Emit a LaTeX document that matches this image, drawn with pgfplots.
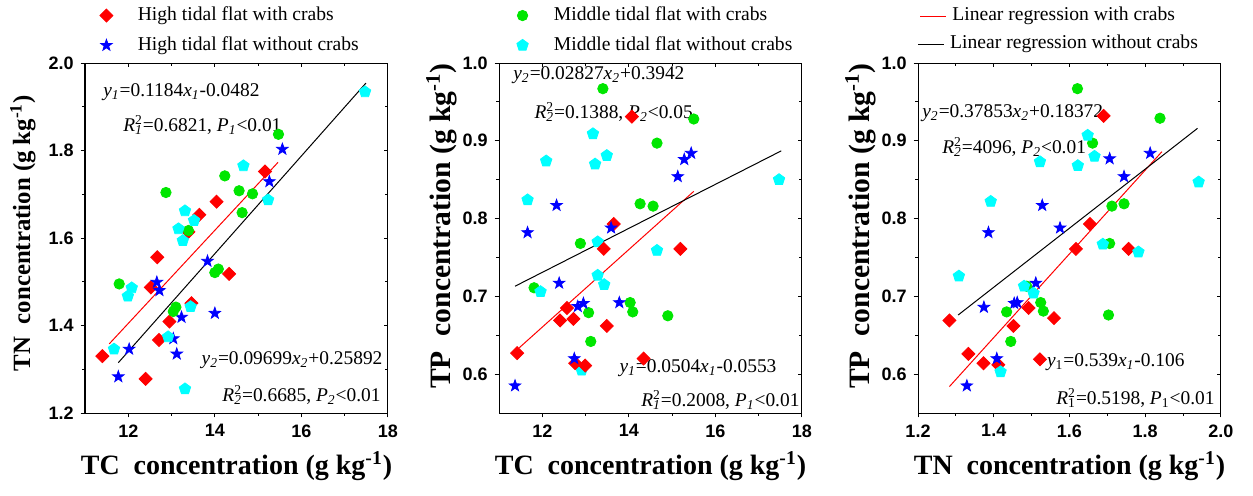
\documentclass[border=0pt]{standalone}
\usepackage{fontspec}
\setmainfont{Liberation Serif}
\newfontfamily\arialfont{Liberation Sans}
\usepackage{pgfplots}
\pgfplotsset{compat=1.18}
\usetikzlibrary{plotmarks}

\definecolor{cgreen}{RGB}{0,230,0}
\definecolor{ccyan}{RGB}{0,255,255}

% filled five-pointed star
\pgfdeclareplotmark{fstar}{%
  \pgfpathmoveto{\pgfpointpolar{90}{\pgfplotmarksize}}%
  \pgfpathlineto{\pgfpointpolar{126}{0.4\pgfplotmarksize}}%
  \pgfpathlineto{\pgfpointpolar{162}{\pgfplotmarksize}}%
  \pgfpathlineto{\pgfpointpolar{198}{0.4\pgfplotmarksize}}%
  \pgfpathlineto{\pgfpointpolar{234}{\pgfplotmarksize}}%
  \pgfpathlineto{\pgfpointpolar{270}{0.4\pgfplotmarksize}}%
  \pgfpathlineto{\pgfpointpolar{306}{\pgfplotmarksize}}%
  \pgfpathlineto{\pgfpointpolar{342}{0.4\pgfplotmarksize}}%
  \pgfpathlineto{\pgfpointpolar{18}{\pgfplotmarksize}}%
  \pgfpathlineto{\pgfpointpolar{54}{0.4\pgfplotmarksize}}%
  \pgfpathclose
  \pgfusepathqfillstroke}

\newcommand{\vs}[2]{\textit{#1}\textsubscript{\textit{#2}}}
\newcommand{\Rsq}[1]{\textit{R}\rlap{\textsuperscript{2}}\textsubscript{\textit{#1}}}

\tikzset{ann/.style={font=\fontsize{9.7}{11}\selectfont, inner sep=0pt},
  leg/.style={font=\fontsize{9.8}{11}\selectfont, inner sep=0pt, anchor=west}}

\pgfplotsset{
  panel/.style={scale only axis, width=151.5pt, height=175pt, anchor=south west,
    axis line style={line width=0.5pt}, tick style={black, line width=0.5pt},
    tick align=outside, xtick pos=left, ytick pos=left,
    major tick length=2.2pt, minor tick length=1.4pt,
    ticklabel style={font=\arialfont\bfseries\fontsize{9}{10}\selectfont},
    /pgf/number format/assume math mode=true,
    every axis x label/.style={at={(axis description cs:0.5,0)}, anchor=center, yshift=-26.5pt,
      font=\bfseries\fontsize{14}{16}\selectfont},
    legend style={draw=none, fill=none, inner sep=0pt, outer sep=0pt, row sep=2.5pt,
      font=\fontsize{9.8}{11}\selectfont, legend cell align=left},
    legend image code/.code={\path (-4pt,0pt) (13.5pt,0pt); \draw[#1] plot coordinates {(0pt,0pt)};},
    clip=false},
  ylab/.style n args={3}{every axis y label/.style={at={(axis description cs:#1,#2)}, rotate=90, anchor=center,
      font=\bfseries\fontsize{#3}{16}\selectfont}},
  mirror/.style={scale only axis, width=151.5pt, height=175pt, anchor=south west,
    axis line style={line width=0.5pt}, tick style={black, line width=0.5pt},
    tick align=inside, xtick pos=right, ytick pos=right,
    major tick length=2.2pt, minor tick length=1.4pt,
    xticklabels={}, yticklabels={}},
  redd/.style={only marks, mark=square*, mark size=2.3pt, mark options={rotate=45, fill=red, draw=red}},
  blus/.style={only marks, mark=fstar, mark size=3pt, mark options={fill=blue, draw=blue}},
  grnc/.style={only marks, mark=*, mark size=2.6pt, mark options={fill=cgreen, draw=cgreen}},
  cyap/.style={only marks, mark=pentagon*, mark size=3pt, mark options={fill=ccyan, draw=ccyan}}
}

\begin{document}
\begin{tikzpicture}
\useasboundingbox (0,0) rectangle (626.5pt,247.5pt);

% ---- panel 1: TN vs TC
\begin{axis}[mirror, at={(42.5pt,41pt)}, xmin=11, xmax=18, ymin=1.2, ymax=2.0,
  xtick={12,14,16,18}, minor xtick={13,15,17}, ytick={1.2,1.4,1.6,1.8,2.0}, minor ytick={1.3,1.5,1.7,1.9}]
\end{axis}
\begin{axis}[panel, ylab={-0.205}{0.514}{12.4}, at={(42.5pt,41pt)}, xmin=11, xmax=18, ymin=1.2, ymax=2.0,
  xtick={12,14,16,18}, minor xtick={13,15,17}, ytick={1.2,1.4,1.6,1.8,2.0}, minor ytick={1.3,1.5,1.7,1.9},
  yticklabel style={/pgf/number format/.cd, fixed, fixed zerofill, precision=1},
  xlabel={TC\ \ concentration (g kg\textsuperscript{-1})},
  ylabel={TN\ \ concentration (g kg\textsuperscript{-1})},
  legend style={at={(rel axis cs:0.043,1.171)}, anchor=north west}]
\addplot[redd] coordinates {(11.40,1.330) (12.40,1.278) (12.67,1.556) (12.52,1.487) (12.71,1.367) (12.95,1.409) (13.39,1.614) (13.64,1.653) (14.04,1.683) (14.33,1.518) (15.16,1.752) (13.46,1.451)};
\addlegendentry{High tidal flat with crabs}
\addplot[blus] coordinates {(11.77,1.283) (12.02,1.346) (12.66,1.499) (12.72,1.480) (13.04,1.370) (13.12,1.335) (13.23,1.419) (13.83,1.547) (14.00,1.428) (15.26,1.729) (15.56,1.803)};
\addlegendentry{High tidal flat without crabs}
\addplot[grnc, forget plot] coordinates {(11.79,1.495) (12.87,1.704) (13.39,1.617) (13.10,1.442) (13.04,1.432) (14.00,1.521) (14.08,1.529) (14.23,1.742) (14.56,1.708) (14.87,1.701) (14.63,1.658) (15.47,1.837)};
\addplot[cyap, forget plot] coordinates {(11.67,1.346) (11.99,1.467) (12.08,1.486) (12.92,1.374) (13.16,1.621) (13.26,1.594) (13.31,1.662) (13.52,1.640) (13.44,1.443) (13.31,1.255) (14.66,1.765) (15.23,1.687) (17.47,1.934)};
\addplot[red, line width=0.5pt, forget plot] coordinates {(11.56,1.358) (15.46,1.773)};
\addplot[black, line width=0.5pt, forget plot] coordinates {(11.77,1.315) (17.49,1.954)};
\node[ann, anchor=west] at (rel axis cs:0.059,0.918) {\vs{y}{1}=0.1184\vs{x}{1}-0.0482};
\node[ann, anchor=west] at (rel axis cs:0.125,0.823) {\Rsq{1}=0.6821, \vs{P}{1}<0.01};
\node[ann, anchor=east] at (rel axis cs:0.983,0.151) {\vs{y}{2}=0.09699\vs{x}{2}+0.25892};
\node[ann, anchor=east] at (rel axis cs:0.977,0.051) {\Rsq{2}=0.6685, \vs{P}{2}<0.01};
\end{axis}

% ---- panel 2: TP vs TC
\begin{axis}[mirror, at={(249.5pt,41pt)}, xmin=11, xmax=18, ymin=0.55, ymax=1.0,
  xtick={12,14,16,18}, minor xtick={13,15,17}, ytick={0.6,0.7,0.8,0.9,1.0}, minor ytick={0.65,0.75,0.85,0.95}]
\end{axis}
\begin{axis}[panel, ylab={-0.19}{0.534}{14.8}, at={(249.5pt,41pt)}, xmin=11, xmax=18, ymin=0.55, ymax=1.0,
  xtick={12,14,16,18}, minor xtick={13,15,17}, ytick={0.6,0.7,0.8,0.9,1.0}, minor ytick={0.65,0.75,0.85,0.95},
  yticklabel style={/pgf/number format/.cd, fixed, fixed zerofill, precision=1},
  xlabel={TC\ \ concentration (g kg\textsuperscript{-1})},
  ylabel={TP\ \ concentration (g kg\textsuperscript{-1})},
  legend style={at={(rel axis cs:0.05,1.171)}, anchor=north west}]
\addplot[grnc] coordinates {(11.81,0.711) (12.88,0.768) (13.07,0.679) (13.12,0.642) (13.40,0.967) (14.03,0.692) (14.09,0.680) (14.26,0.819) (14.56,0.816) (14.65,0.897) (14.90,0.675) (15.50,0.928)};
\addlegendentry{Middle tidal flat with crabs}
\addplot[cyap] coordinates {(11.66,0.824) (11.96,0.706) (12.09,0.874) (12.91,0.605) (13.17,0.909) (13.22,0.870) (13.28,0.770) (13.28,0.727) (13.43,0.715) (13.49,0.881) (14.65,0.759) (17.47,0.850)};
\addlegendentry{Middle tidal flat without crabs}
\addplot[redd, forget plot] coordinates {(11.42,0.627) (12.41,0.669) (12.57,0.685) (12.72,0.671) (12.76,0.614) (12.99,0.611) (13.42,0.761) (13.49,0.662) (13.65,0.793) (14.07,0.931) (14.34,0.620) (15.19,0.761)};
\addplot[blus, forget plot] coordinates {(11.37,0.585) (11.66,0.782) (12.33,0.817) (12.39,0.717) (12.82,0.687) (12.95,0.691) (12.74,0.620) (13.59,0.788) (13.78,0.692) (15.13,0.854) (15.28,0.876) (15.44,0.884)};
\addplot[red, line width=0.5pt, forget plot] coordinates {(11.47,0.634) (15.50,0.835)};
\addplot[black, line width=0.5pt, forget plot] coordinates {(11.37,0.713) (17.52,0.887)};
\node[ann, anchor=west] at (rel axis cs:0.046,0.966) {\vs{y}{2}=0.02827\vs{x}{2}+0.3942};
\node[ann, anchor=west] at (rel axis cs:0.116,0.860) {\Rsq{2}=0.1388, \vs{P}{2}<0.05};
\node[ann, anchor=east] at (rel axis cs:0.917,0.129) {\vs{y}{1}=0.0504\vs{x}{1}-0.0553};
\node[ann, anchor=east] at (rel axis cs:0.993,0.037) {\Rsq{1}=0.2008, \vs{P}{1}<0.01};
\end{axis}

% ---- panel 3: TP vs TN
\begin{axis}[mirror, at={(459pt,41pt)}, xmin=1.2, xmax=2.0, ymin=0.55, ymax=1.0,
  xtick={1.2,1.4,1.6,1.8,2.0}, minor xtick={1.3,1.5,1.7,1.9}, ytick={0.6,0.7,0.8,0.9,1.0}, minor ytick={0.65,0.75,0.85,0.95}]
\end{axis}
\begin{axis}[panel, ylab={-0.19}{0.534}{14.8}, at={(459pt,41pt)}, xmin=1.2, xmax=2.0, ymin=0.55, ymax=1.0,
  xtick={1.2,1.4,1.6,1.8,2.0}, minor xtick={1.3,1.5,1.7,1.9}, ytick={0.6,0.7,0.8,0.9,1.0}, minor ytick={0.65,0.75,0.85,0.95},
  xticklabel style={/pgf/number format/.cd, fixed, fixed zerofill, precision=1},
  yticklabel style={/pgf/number format/.cd, fixed, fixed zerofill, precision=1},
  xlabel={TN\ \ concentration (g kg\textsuperscript{-1})},
  ylabel={TP\ \ concentration (g kg\textsuperscript{-1})}]
\addplot[red, line width=0.5pt] coordinates {(1.283,0.584) (1.844,0.886)};
\addplot[black, line width=0.5pt] coordinates {(1.306,0.676) (1.938,0.916)};
\addplot[redd] coordinates {(1.283,0.669) (1.333,0.626) (1.373,0.614) (1.412,0.612) (1.452,0.662) (1.492,0.685) (1.522,0.619) (1.559,0.672) (1.617,0.761) (1.654,0.793) (1.690,0.932) (1.756,0.761)};
\addplot[blus] coordinates {(1.329,0.585) (1.374,0.686) (1.386,0.782) (1.408,0.620) (1.454,0.691) (1.462,0.692) (1.511,0.717) (1.528,0.817) (1.575,0.788) (1.706,0.877) (1.744,0.854) (1.813,0.884)};
\addplot[grnc] coordinates {(1.621,0.967) (1.661,0.897) (1.839,0.929) (1.744,0.819) (1.712,0.816) (1.706,0.768) (1.703,0.676) (1.524,0.692) (1.531,0.681) (1.434,0.680) (1.445,0.642) (1.487,0.713)};
\addplot[cyap] coordinates {(1.308,0.726) (1.392,0.822) (1.418,0.603) (1.480,0.713) (1.505,0.704) (1.522,0.873) (1.622,0.868) (1.648,0.907) (1.666,0.880) (1.688,0.767) (1.782,0.757) (1.941,0.847)};
% legend of the regression lines
\draw[red, line width=0.6pt] (rel axis cs:0.007,1.134) -- (rel axis cs:0.092,1.134);
\node[leg] at (rel axis cs:0.112,1.134) {Linear regression with crabs};
\draw[black, line width=0.5pt] (rel axis cs:0.0,1.054) -- (rel axis cs:0.085,1.054);
\node[leg] at (rel axis cs:0.105,1.054) {Linear regression without crabs};
\node[ann, anchor=west] at (rel axis cs:0.013,0.857) {\vs{y}{2}=0.37853\vs{x}{2}+0.18372};
\node[ann, anchor=west] at (rel axis cs:0.079,0.760) {\Rsq{2}=4096, \vs{P}{2}<0.01};
\node[ann, anchor=east] at (rel axis cs:0.881,0.146) {\textit{y}\textsubscript{1}=0.539\vs{x}{1}-0.106};
\node[ann, anchor=east] at (rel axis cs:0.980,0.043) {\textit{R}\rlap{\textsuperscript{2}}\textsubscript{1}=0.5198, \textit{P}\textsubscript{1}<0.01};
\end{axis}
\end{tikzpicture}
\end{document}
